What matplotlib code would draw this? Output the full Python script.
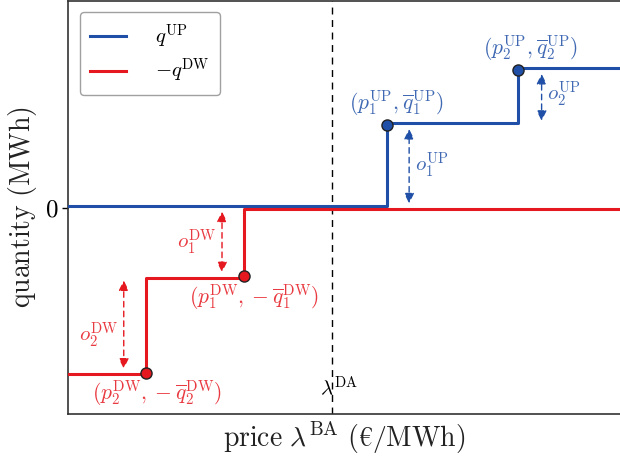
import matplotlib
matplotlib.use("Agg")
import matplotlib.pyplot as plt
import matplotlib.transforms as mtransforms

plt.rcParams['mathtext.fontset'] = 'cm'
plt.rcParams['font.family'] = ['DejaVu Serif']

# ---- data (arbitrary units) ----
p_up = [5.78, 8.15]          # price steps of upward offer
q_up = [1.2, 2.0]            # cumulative upward quantity after each step
p_dw = [3.19, 1.41]          # price steps of downward offer
q_dw = [1.0, 2.4]            # cumulative downward quantity (shown negative)
lambda_da = 4.78
x_min, x_max = 0.0, 10.0
y_min, y_max = -3.0, 3.0

blue = '#1f4fa6'
red = '#e5171f'

fig = plt.figure(figsize=(6.2, 4.62), dpi=100)
ax = fig.add_axes([68/620, 48/462, 552/620, 413/462])
ax.set_xlim(x_min, x_max)
ax.set_ylim(y_min, y_max)

# step curves
up_x = [x_min, p_up[0], p_up[0], p_up[1], p_up[1], x_max]
up_y = [0, 0, q_up[0], q_up[0], q_up[1], q_up[1]]
dw_x = [x_min, p_dw[1], p_dw[1], p_dw[0], p_dw[0], x_max]
dw_y = [-q_dw[1], -q_dw[1], -q_dw[0], -q_dw[0], 0, 0]

off_up = ax.transData + mtransforms.ScaledTranslation(0, 1.2/72, fig.dpi_scale_trans)
off_dw = ax.transData + mtransforms.ScaledTranslation(0, -1.2/72, fig.dpi_scale_trans)
ax.plot(up_x, up_y, color=blue, lw=2.2, label=r'$q^{\mathrm{UP}}$', transform=off_up, zorder=3)
ax.plot(dw_x, dw_y, color=red, lw=2.2, label=r'$-q^{\mathrm{DW}}$', transform=off_dw, zorder=3)

# markers
ax.plot(p_up, q_up, 'o', color=blue, mec='#222222', mew=1.0, ms=8, zorder=4)
ax.plot(p_dw, [-q for q in q_dw], 'o', color=red, mec='#222222', mew=1.0, ms=8, zorder=4)

# DA price line
ax.axvline(lambda_da, color='black', ls=(0, (5, 4)), lw=1.0, zorder=1)
ax.text(lambda_da + 0.13, -2.6, r'$\lambda^{\mathrm{DA}}$', fontsize=15, ha='center', va='center')

# double arrows
def darrow(x, y0, y1, c):
    ax.annotate('', xy=(x, y1), xytext=(x, y0),
                arrowprops=dict(arrowstyle='<|-|>,head_length=0.6,head_width=0.3',
                                color=c, lw=1.0, ls=(0, (4, 3)),
                                shrinkA=0, shrinkB=0))

gap = 0.06
dx = 0.4
darrow(p_up[0] + dx, 0 + gap, q_up[0] - gap, blue)
darrow(p_up[1] + dx + 0.03, q_up[0] + gap, q_up[1] - gap, blue)
darrow(p_dw[0] - dx, -gap, -q_dw[0] + gap, red)
darrow(p_dw[1] - dx, -q_dw[0] - gap, -q_dw[1] + gap, red)

lab_fs = 15
ax.text(p_up[0] + dx + 0.1, (0 + q_up[0]) / 2 + 0.02, r'$o_1^{\mathrm{UP}}$', color=blue, alpha=0.85,
        fontsize=lab_fs, ha='left', va='center')
ax.text(p_up[1] + dx + 0.13, (q_up[0] + q_up[1]) / 2 + 0.05, r'$o_2^{\mathrm{UP}}$', color=blue, alpha=0.85,
        fontsize=lab_fs, ha='left', va='center')
ax.text(p_dw[0] - dx - 0.1, -q_dw[0] / 2 - 0.0, r'$o_1^{\mathrm{DW}}$', color=red, alpha=0.85,
        fontsize=lab_fs, ha='right', va='center')
ax.text(p_dw[1] - dx - 0.1, -(q_dw[0] + q_dw[1]) / 2 - 0.15, r'$o_2^{\mathrm{DW}}$', color=red, alpha=0.85,
        fontsize=lab_fs, ha='right', va='center')

pt_fs = 15.5
ax.annotate(r'$(p_1^{\mathrm{UP}},\overline{q}_1^{\mathrm{UP}})$', (p_up[0], q_up[0]), xytext=(7, 5),
            textcoords='offset points', ha='center', va='bottom', color=blue, alpha=0.85, fontsize=pt_fs)
ax.annotate(r'$(p_2^{\mathrm{UP}},\overline{q}_2^{\mathrm{UP}})$', (p_up[1], q_up[1]), xytext=(9, 5),
            textcoords='offset points', ha='center', va='bottom', color=blue, alpha=0.85, fontsize=pt_fs)
ax.annotate(r'$(p_1^{\mathrm{DW}},-\overline{q}_1^{\mathrm{DW}})$', (p_dw[0], -q_dw[0]), xytext=(7, -4),
            textcoords='offset points', ha='center', va='top', color=red, alpha=0.85, fontsize=pt_fs)
ax.annotate(r'$(p_2^{\mathrm{DW}},-\overline{q}_2^{\mathrm{DW}})$', (p_dw[1], -q_dw[1]), xytext=(8, -4),
            textcoords='offset points', ha='center', va='top', color=red, alpha=0.85, fontsize=pt_fs)

# axes styling
ax.set_xticks([])
ax.set_yticks([0])
ax.set_yticklabels([r'$0$'], fontsize=18)
ax.tick_params(axis='y', length=4, width=1, pad=3)
for s in ['left', 'bottom', 'top']:
    ax.spines[s].set_color('#333333')
    ax.spines[s].set_linewidth(1.2)
ax.spines['right'].set_visible(False)

ax.set_xlabel(r'$\mathrm{price}\ \lambda^{\mathrm{BA}}\ (\text{€}/\mathrm{MWh})$', fontsize=20, labelpad=4, color='#222222')
ax.set_ylabel(r'$\mathrm{quantity\ (MWh)}$', fontsize=20, labelpad=4, color='#222222')

leg = ax.legend(loc='upper left', fontsize=15, frameon=True, fancybox=True,
                handlelength=1.7, handletextpad=1.4, borderpad=0.5, labelspacing=0.3,
                borderaxespad=0.0, bbox_to_anchor=(12/552, 1 - 11/413))
leg.get_frame().set_edgecolor('#888888')
leg.get_frame().set_linewidth(1.0)
for t in leg.get_texts():
    t.set_x(0)

fig.savefig('out.png', dpi=100)
